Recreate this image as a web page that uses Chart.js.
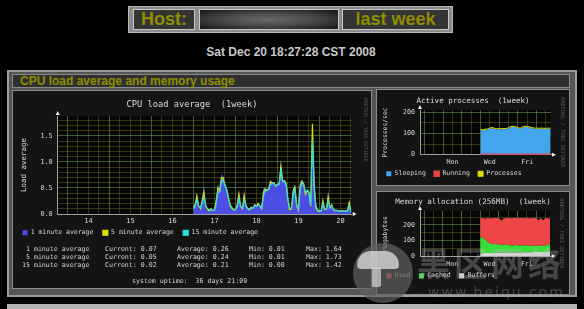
<!DOCTYPE html>
<html>
<head>
<meta charset="utf-8">
<script src="https://cdn.jsdelivr.net/npm/chart.js@4.4.0/dist/chart.umd.min.js"></script>
<style>
body { margin: 0; background: #000; width: 584px; height: 309px; overflow: hidden; position: relative; font-family: "Liberation Sans", Arial, sans-serif; }
.abs { position: absolute; box-sizing: border-box; }
.cell { position: absolute; box-sizing: border-box; top: 9px; height: 21px; background: #343434; border: 1px solid #c8c8c8; color: #8f8f00; font-weight: bold; font-size: 18px; line-height: 19px; text-align: center; }
.mono { position: absolute; font-family: "DejaVu Sans Mono", monospace; font-size: 6.6px; line-height: 8px; color: #d4d4d4; white-space: pre; }
canvas { position: absolute; }
</style>
</head>
<body>

<!-- header -->
<div class="abs" style="left:128px;top:6px;width:325px;height:27px;background:#8a8a8a;border:1px solid #b8b8b8"></div>
<div class="cell" style="left:133px;width:62px">Host:</div>
<div class="cell" style="left:199px;width:140px;background:radial-gradient(ellipse at center,#6a6a6a 0%,#4a4a4a 45%,#151515 100%)"></div>
<div class="cell" style="left:342px;width:107px">last week</div>
<div class="abs" style="left:191px;top:45px;width:200px;text-align:center;color:#c8c8c8;font-weight:bold;font-size:12px;line-height:14px">Sat Dec 20 18:27:28 CST 2008</div>

<!-- section frame -->
<div class="abs" style="left:7px;top:70px;width:570px;height:227px;background:#555;border:2px solid #9c9c9c"></div>
<div class="abs" style="left:12px;top:74px;width:558px;height:14px;background:#303030;border:1px solid #8a8a8a;color:#8f8f00;font-weight:bold;font-size:12px;line-height:12px;padding-left:7px">CPU load average and memory usage</div>
<div class="abs" style="left:12px;top:90px;width:360px;height:199px;background:#141414;border:1px solid #8c8c8c"></div>
<div class="abs" style="left:376px;top:89px;width:194px;height:97px;background:#141414;border:1px solid #8c8c8c"></div>
<div class="abs" style="left:376px;top:191px;width:194px;height:104px;background:#141414;border:1px solid #8c8c8c"></div>
<div class="abs" style="left:7px;top:304px;width:570px;height:5px;background:#b4b4b4"></div>

<canvas id="cpuChart" width="358" height="154" style="left:13px;top:92px"></canvas>
<canvas id="procChart" width="190" height="96" style="left:378px;top:91px"></canvas>
<canvas id="memChart" width="190" height="96" style="left:378px;top:193px"></canvas>

<div id="stats"></div>

<!-- site watermark -->
<div class="abs" style="left:353px;top:243px;width:60px;height:60px;border-radius:50%;background:rgba(95,95,95,0.7)"></div>
<div class="abs" style="left:357px;top:251px;width:42px;height:18px;border-radius:21px 21px 6px 6px;background:rgba(225,225,225,0.75)"></div>
<div class="abs" style="left:372px;top:267px;width:9px;height:20px;border-radius:2px;background:rgba(205,205,205,0.75)"></div>
<div class="abs" style="left:417px;top:244px;font-family:'Noto Sans CJK SC',sans-serif;font-weight:bold;font-size:33px;line-height:36px;letter-spacing:4px;color:rgba(190,190,190,0.3)">黑区网络</div>
<div class="abs" style="left:428px;top:284px;font-family:'DejaVu Sans',sans-serif;font-size:14px;line-height:16px;letter-spacing:2px;color:rgba(180,180,180,0.3)">www.heiqu.com</div>

<script>
// time axis values are hours since Dec 13 2008 00:00
const viewStart = 18.45;
const viewEnd = 186.45;
const dayNames = ['Sat', 'Sun', 'Mon', 'Tue', 'Wed', 'Thu', 'Fri', 'Sat'];

// CPU load, hourly samples from Dec 17 00:00
const cpuFirstHour = 96;
const cpuStep = 1;
const load1 = [
    0.15, 0.20, 0.41, 0.08, 0.10, 0.30, 0.57, 0.08, 0.06, 0.05,
    0.12, 0.06, 0.08, 0.30, 0.59, 0.46, 0.77, 0.72, 0.55, 0.48,
    0.27, 0.12, 0.08, 0.07, 0.09, 0.20, 0.46, 0.10, 0.10, 0.47,
    0.12, 0.09, 0.08, 0.15, 0.10, 0.20, 0.15, 0.22, 0.14, 0.10,
    0.50, 0.50, 0.47, 0.50, 0.66, 0.60, 0.62, 0.52, 0.59, 0.60,
    0.97, 0.62, 0.66, 0.58, 0.20, 0.05, 0.10, 0.50, 0.56, 0.10,
    0.05, 0.62, 0.66, 0.60, 0.35, 0.49, 0.45, 0.10, 1.64, 0.45,
    0.08, 0.05, 0.05, 0.06, 0.32, 0.05, 0.10, 0.46, 0.10, 0.20,
    0.07, 0.05, 0.08, 0.06, 0.05, 0.08, 0.05, 0.07, 0.06, 0.28,
    0.07
];
const load5 = [
    0.12, 0.18, 0.35, 0.15, 0.10, 0.25, 0.42, 0.15, 0.08, 0.06,
    0.10, 0.07, 0.07, 0.25, 0.50, 0.45, 0.70, 0.70, 0.55, 0.47,
    0.30, 0.15, 0.10, 0.08, 0.08, 0.17, 0.38, 0.14, 0.10, 0.35,
    0.15, 0.10, 0.08, 0.13, 0.11, 0.18, 0.15, 0.20, 0.15, 0.10,
    0.42, 0.48, 0.46, 0.48, 0.62, 0.60, 0.60, 0.53, 0.57, 0.58,
    0.93, 0.62, 0.64, 0.58, 0.25, 0.08, 0.10, 0.45, 0.52, 0.15,
    0.07, 0.55, 0.63, 0.58, 0.38, 0.45, 0.42, 0.15, 1.73, 0.50,
    0.12, 0.06, 0.05, 0.06, 0.25, 0.08, 0.09, 0.33, 0.12, 0.18,
    0.08, 0.06, 0.07, 0.06, 0.05, 0.07, 0.05, 0.06, 0.06, 0.22,
    0.05
];
const load15 = [
    0.10, 0.15, 0.28, 0.15, 0.12, 0.20, 0.33, 0.17, 0.10, 0.08,
    0.09, 0.07, 0.07, 0.20, 0.42, 0.42, 0.62, 0.65, 0.55, 0.47,
    0.32, 0.18, 0.12, 0.09, 0.08, 0.14, 0.30, 0.15, 0.11, 0.28,
    0.16, 0.11, 0.09, 0.12, 0.11, 0.16, 0.15, 0.18, 0.15, 0.11,
    0.35, 0.45, 0.45, 0.47, 0.58, 0.58, 0.59, 0.54, 0.56, 0.57,
    0.85, 0.62, 0.62, 0.57, 0.30, 0.12, 0.11, 0.38, 0.48, 0.18,
    0.09, 0.48, 0.60, 0.57, 0.42, 0.44, 0.42, 0.18, 1.42, 0.55,
    0.15, 0.08, 0.06, 0.06, 0.20, 0.10, 0.09, 0.26, 0.13, 0.16,
    0.09, 0.07, 0.07, 0.06, 0.05, 0.06, 0.05, 0.05, 0.05, 0.17,
    0.02
];
const cpuYLabels = [0, 0.5, 1, 1.5];

// legend / statistics block
const statNames = ['1 minute average', '5 minute average', '15 minute average'];
const statCurrent = [0.07, 0.05, 0.02];
const statAverage = [0.26, 0.24, 0.21];
const statMin = [0.01, 0.01, 0.00];
const statMax = [1.64, 1.73, 1.42];
const uptime = '36 days 21:09';

// processes, 3-hourly samples from Dec 17 00:00
const procFirstHour = 96;
const procStep = 3;
const sleeping = [116, 115, 117, 118, 123, 125, 121, 120, 119, 120, 121, 120, 124, 130, 131, 129,
                  124, 122, 128, 131, 130, 129, 124, 122, 123, 121, 122, 122, 121, 122, 121];
const running = [2, 1, 2, 2, 1, 2, 2, 1, 2, 2, 1, 2, 2, 2, 1, 2, 2, 1, 2, 2, 2, 1, 2, 2, 1, 2, 2, 1, 2, 2, 2];
const processes = [119, 117, 120, 121, 125, 128, 124, 122, 122, 123, 123, 123, 127, 133, 133, 132,
                   127, 124, 131, 134, 133, 131, 127, 125, 125, 124, 125, 124, 124, 125, 124];
const procYLabels = [0, 100, 200];

// memory (MB), 3-hourly samples from Dec 17 00:00
const memFirstHour = 96;
const memStep = 3;
const memBuffers = [18, 18, 19, 19, 20, 20, 20, 21, 21, 21, 22, 22, 22, 22, 23, 23,
                    23, 23, 24, 24, 24, 24, 24, 25, 25, 25, 25, 25, 26, 26, 26];
const memCached = [105, 100, 88, 72, 62, 58, 55, 58, 52, 50, 52, 48, 50, 46, 45, 48,
                   44, 43, 46, 42, 44, 40, 42, 41, 43, 40, 42, 40, 41, 45, 55];
const memUsed = [120, 127, 133, 153, 160, 165, 169, 166, 170, 157, 168, 175, 172, 175, 177, 173,
                 176, 179, 174, 177, 176, 179, 177, 179, 176, 163, 178, 163, 177, 172, 161];
const memYLabels = [0, 100, 200];

const mono = '"DejaVu Sans Mono", monospace';
const MAJOR = 'rgba(105,150,85,0.6)';
const MINOR = 'rgba(125,125,35,0.4)';

function pts(first, step, values) {
    return values.map((v, i) => ({ x: first + i * step, y: v }));
}

// x labels are mirrored with a negative padding so the thin axis box does not clip them
function timeAxis(o) {
    return {
        type: 'linear', min: viewStart, max: viewEnd, z: 1,
        afterBuildTicks: s => {
            const t = [];
            for (let v = Math.ceil(viewStart / o.minor) * o.minor; v <= viewEnd; v += o.minor) t.push({ value: v });
            s.ticks = t;
        },
        afterFit: s => { s.height = o.height; },
        grid: { color: c => (c.tick && c.tick.value % 24 === 0) ? MAJOR : MINOR, drawTicks: false },
        border: { color: '#a0a0a0' },
        ticks: { autoSkip: false, maxRotation: 0, mirror: true, padding: -(o.labelY + o.size * 0.6),
                 color: '#dadada', font: { family: mono, size: o.size }, callback: o.label }
    };
}

function valueAxis(o) {
    return {
        type: 'linear', min: 0, max: o.max, stacked: !!o.stacked, z: 1,
        afterBuildTicks: s => {
            const t = [];
            for (let i = 0; i * o.minor <= o.max + 1e-9; i++) t.push({ value: Math.round(i * o.minor * 1000) / 1000 });
            s.ticks = t;
        },
        afterFit: s => { s.width = o.width; },
        grid: { color: c => (c.tick && o.labels.includes(c.tick.value)) ? MAJOR : MINOR, drawTicks: false },
        border: { color: '#a0a0a0' },
        ticks: { autoSkip: false, padding: 5, color: '#dadada', font: { family: mono, size: o.size },
                 callback: v => o.labels.includes(v) ? o.fmt(v) : '' },
        title: { display: true, text: o.title, color: '#d8d8d8', font: { family: mono, size: o.titleSize },
                 padding: { top: o.titlePad, bottom: 0 } }
    };
}

// empty right axis, only reserves room for the rrdtool side text
function spacer(w) {
    return { position: 'right', afterFit: s => { s.width = w; },
             grid: { display: false }, ticks: { display: false }, border: { display: false } };
}

// plot background, axis arrows and the vertical rrdtool credit
const rrdDecor = {
    id: 'rrdDecor',
    beforeDraw(chart) {
        const { ctx, chartArea: a } = chart;
        ctx.save();
        ctx.fillStyle = '#060606';
        ctx.fillRect(a.left, a.top, a.right - a.left, a.bottom - a.top);
        ctx.restore();
    },
    afterDraw(chart, args, opts) {
        const { ctx, chartArea: a } = chart;
        ctx.save();
        ctx.fillStyle = '#f0f0f0';
        ctx.beginPath();
        ctx.moveTo(a.left, a.top - 5);
        ctx.lineTo(a.left - 2, a.top - 1);
        ctx.lineTo(a.left + 2, a.top - 1);
        ctx.fill();
        ctx.beginPath();
        ctx.moveTo(a.right + 5, a.bottom);
        ctx.lineTo(a.right + 1, a.bottom - 2);
        ctx.lineTo(a.right + 1, a.bottom + 2);
        ctx.fill();
        ctx.translate(opts.wmX, opts.wmY);
        ctx.rotate(Math.PI / 2);
        ctx.font = opts.wmSize + 'px ' + mono;
        ctx.fillStyle = '#5a5a5a';
        ctx.textBaseline = 'middle';
        ctx.fillText('RRDTOOL / TOBI OETIKER', 0, 0);
        ctx.restore();
    }
};

function rrdChart(id, o) {
    return new Chart(document.getElementById(id), {
        type: 'line',
        data: { datasets: o.datasets },
        options: {
            responsive: false,
            animation: false,
            events: [],
            layout: { padding: 0 },
            elements: { point: { radius: 0 }, line: { tension: 0 } },
            scales: { x: o.x, y: o.y, yR: spacer(o.right) },
            plugins: {
                title: { display: true, text: o.title, color: '#dcdcdc',
                         font: { family: mono, size: o.titleSize, weight: 'normal' }, padding: o.titlePad },
                legend: { position: 'bottom', align: 'start', reverse: !!o.reverse,
                          labels: { boxWidth: 5, boxHeight: 5, padding: o.legendPad, color: '#d8d8d8',
                                    font: { family: mono, size: 6.5 },
                                    sort: (a, b) => a.datasetIndex - b.datasetIndex } },
                tooltip: { enabled: false },
                rrdDecor: o.decor
            }
        },
        plugins: [rrdDecor]
    });
}

rrdChart('cpuChart', {
    title: 'CPU load average  (1week)', titleSize: 8.7, titlePad: { top: 7.8, bottom: 5.8 },
    legendPad: 9.5, right: 19.3,
    decor: { wmX: 352, wmY: 6, wmSize: 4.8 },
    x: timeAxis({ minor: 6, height: 6, labelY: 7.3, size: 7,
                  label: v => (v % 24 === 12) ? String(13 + Math.floor(v / 24)) : '' }),
    y: valueAxis({ max: 1.88, minor: 0.1, labels: cpuYLabels, fmt: v => v.toFixed(1), width: 44.7,
                   size: 6.8, title: 'Load average', titleSize: 7.5, titlePad: 6.5 }),
    datasets: [
        { label: '1 minute average', data: pts(cpuFirstHour, cpuStep, load1), yAxisID: 'y', fill: 'origin',
          backgroundColor: '#4d4de8', borderColor: '#4d4de8', borderWidth: 0, order: 3 },
        { label: '5 minute average', data: pts(cpuFirstHour, cpuStep, load5), yAxisID: 'y', fill: false,
          backgroundColor: '#e0e000', borderColor: '#e0e000', borderWidth: 1.2, order: 2 },
        { label: '15 minute average', data: pts(cpuFirstHour, cpuStep, load15), yAxisID: 'y', fill: false,
          backgroundColor: '#30e0e0', borderColor: '#30e0e0', borderWidth: 1.2, order: 1 }
    ]
});

rrdChart('procChart', {
    title: 'Active processes  (1week)', titleSize: 7.5, titlePad: { top: 5.5, bottom: 4.5 },
    legendPad: 8.3, right: 17,
    decor: { wmX: 184.7, wmY: 6, wmSize: 5.3 },
    x: timeAxis({ minor: 12, height: 7.5, labelY: 7.6, size: 6.6,
                  label: v => (v % 48 === 12) ? dayNames[Math.floor(v / 24)] : '' }),
    y: valueAxis({ max: 210, minor: 50, labels: procYLabels, fmt: v => String(v), width: 42,
                   size: 6.6, title: 'Processes/sec', titleSize: 6.4, titlePad: 3.2 }),
    datasets: [
        { label: 'Sleeping', data: pts(procFirstHour, procStep, sleeping), yAxisID: 'y', fill: 'origin',
          backgroundColor: '#44a6ec', borderColor: '#44a6ec', borderWidth: 0, order: 3 },
        { label: 'Running', data: pts(procFirstHour, procStep, running), yAxisID: 'y', fill: false,
          backgroundColor: '#e84040', borderColor: '#e84040', borderWidth: 1.5, order: 2 },
        { label: 'Processes', data: pts(procFirstHour, procStep, processes), yAxisID: 'y', fill: false,
          backgroundColor: '#dede00', borderColor: '#dede00', borderWidth: 1, order: 1 }
    ]
});

rrdChart('memChart', {
    title: 'Memory allocation (256MB)  (1week)', titleSize: 7.6, titlePad: { top: 4.4, bottom: 4.4 },
    legendPad: 8.5, right: 17.5, reverse: true,
    decor: { wmX: 183.7, wmY: 5.3, wmSize: 5.3 },
    x: timeAxis({ minor: 12, height: 8, labelY: 8, size: 6.6,
                  label: v => (v % 48 === 12) ? dayNames[Math.floor(v / 24)] : '' }),
    y: valueAxis({ max: 290, minor: 50, labels: memYLabels, fmt: v => String(v), width: 42, stacked: true,
                   size: 6.6, title: 'Megabytes', titleSize: 6.4, titlePad: 3.2 }),
    datasets: [
        { label: 'Buffers', data: pts(memFirstHour, memStep, memBuffers), yAxisID: 'y', fill: 'origin',
          backgroundColor: '#d4d4d4', borderColor: '#d4d4d4', borderWidth: 0 },
        { label: 'Cached', data: pts(memFirstHour, memStep, memCached), yAxisID: 'y', fill: '-1',
          backgroundColor: '#3ade3a', borderColor: '#3ade3a', borderWidth: 0 },
        { label: 'Used', data: pts(memFirstHour, memStep, memUsed), yAxisID: 'y', fill: '-1',
          backgroundColor: '#ee4646', borderColor: '#ee4646', borderWidth: 0 }
    ]
});

// GPRINT style statistics under the CPU graph
const stats = document.getElementById('stats');
function addText(text, left, cy, right) {
    const el = document.createElement('div');
    el.className = 'mono';
    el.textContent = text;
    el.style.top = (cy - 4) + 'px';
    if (right) { el.style.left = '0px'; el.style.width = left + 'px'; el.style.textAlign = 'right'; }
    else el.style.left = left + 'px';
    stats.appendChild(el);
}
statNames.forEach((name, i) => {
    const cy = 249 + i * 8;
    addText(name, 89.5, cy, true);
    addText('Current: ' + statCurrent[i].toFixed(2), 105, cy);
    addText('Average: ' + statAverage[i].toFixed(2), 177, cy);
    addText('Min: ' + statMin[i].toFixed(2), 249, cy);
    addText('Max: ' + statMax[i].toFixed(2), 306, cy);
});
addText('system uptime:  ' + uptime, 132, 280.5);
</script>
</body>
</html>
